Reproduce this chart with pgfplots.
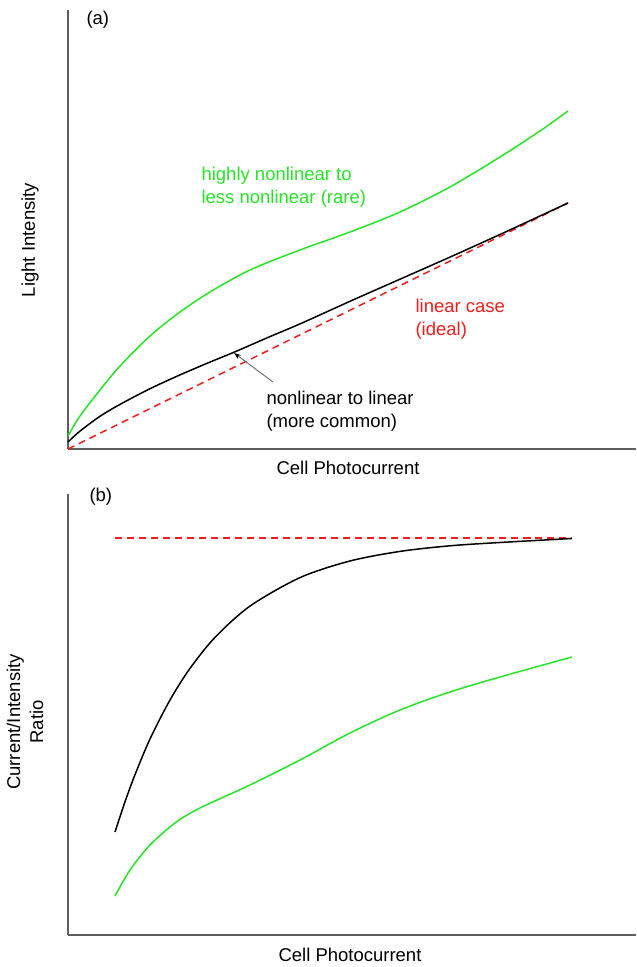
\documentclass[border=0pt]{standalone}
\usepackage{pgfplots}
\pgfplotsset{compat=1.18}
\usetikzlibrary{arrows.meta}
\usepackage{fontspec}
\setmainfont{Liberation Sans}
\definecolor{cgreen}{RGB}{40,228,40}
\definecolor{cred}{RGB}{240,30,30}
\definecolor{caxis}{RGB}{95,95,95}
\begin{document}
\begin{tikzpicture}[x=1pt,y=1pt,every node/.style={font=\fontsize{18.5}{23}\selectfont}]
\useasboundingbox (0,0) rectangle (637,967);
\pgfplotsset{myax/.style={scale only axis, width=568pt, xmin=0, xmax=568, ymin=0,
  axis x line=bottom, axis y line=left,
  axis line style={-, caxis, line width=1.6pt},
  xtick=\empty, ytick=\empty, clip=false,
  every axis plot/.append style={line width=1.5pt, smooth}}}
% ---------------- panel (a)
\begin{axis}[myax, height=439pt, ymax=439, at={(68,518)}, anchor=south west]
\addplot[cred, dash pattern=on 7pt off 5pt, smooth=false] coordinates {(0,0) (500,246)};
\addplot[black] coordinates {(0,7) (12,17.9) (32,32.7) (52,44.6) (82,60.3) (112,74.1) (142,86.9) (167,97.2) (202,112.4) (232,125.1) (282,147.7) (332,169.8) (382,191.9) (432,214.5) (472,233) (500,246)};
\addplot[cgreen] coordinates {(0,13) (12,33) (32,59) (52,83) (82,113) (112,137) (142,157) (182,179) (232,199) (282,217) (332,237) (382,262) (432,292) (472,318) (500,338)};
\node[anchor=west] at (axis cs:15,429) {(a)};
\node[anchor=west, align=left, text=cgreen] at (axis cs:130,262) {highly nonlinear to\\less nonlinear (rare)};
\node[anchor=west, align=left, text=cred] at (axis cs:344,130) {linear case\\(ideal)};
\node[anchor=west, align=left, text=black] at (axis cs:195,38) {nonlinear to linear\\(more common)};
\draw[black!55, line width=1pt, -{Stealth[black, length=7pt, width=5pt]}] (axis cs:205,67) -- (axis cs:166,96);
\node at (axis cs:280,-19) {Cell Photocurrent};
\node[rotate=90] at (axis cs:-38,209) {Light Intensity};
\end{axis}
% ---------------- panel (b)
\begin{axis}[myax, height=441pt, ymax=441, at={(68,32)}, anchor=south west]
\addplot[cred, dash pattern=on 7pt off 5pt, smooth=false] coordinates {(47,397) (504,397)};
\addplot[black] coordinates {(47,103) (57,133.2) (67,160.3) (82,196) (102,235) (122,266.6) (147,297.6) (182,328.9) (232,357.4) (282,374) (332,383.6) (382,389.2) (432,392.5) (504,396.5)};
\addplot[cgreen] coordinates {(47,39) (62,65) (82,90) (107,112) (132,127) (182,150) (232,175) (282,202) (332,225) (382,243) (432,258) (504,278)};
\node[anchor=west] at (axis cs:18,438) {(b)};
\node at (axis cs:282,-20) {Cell Photocurrent};
\node[rotate=90, align=center] at (axis cs:-43,213) {Current/Intensity\\Ratio};
\end{axis}
\end{tikzpicture}
\end{document}
